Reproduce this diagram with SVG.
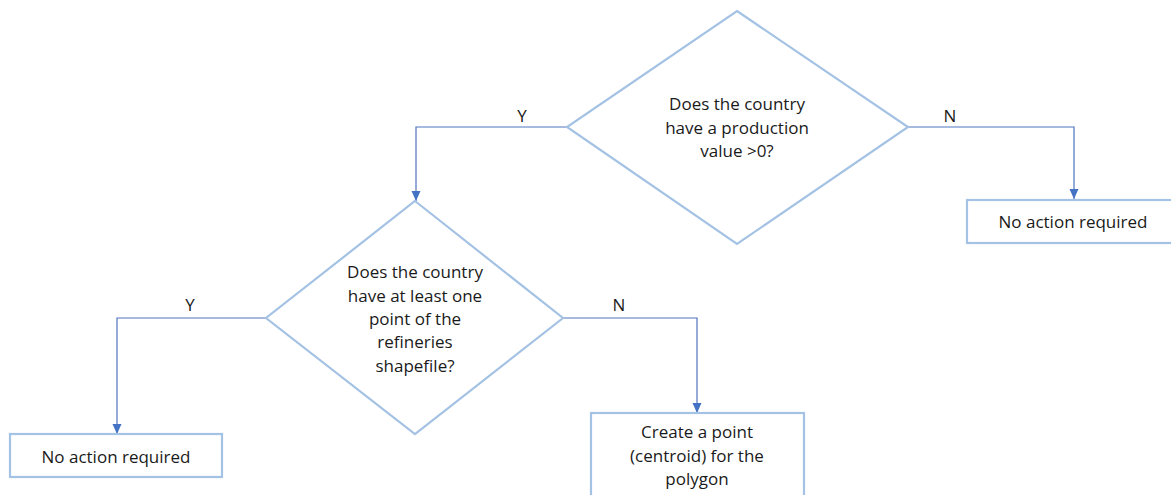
<svg xmlns="http://www.w3.org/2000/svg" width="1171" height="495" viewBox="0 0 1171 495">
<style>
.shape{fill:#fff;stroke:#a4c2e4;stroke-width:2.2}
.conn{fill:none;stroke:#4f74bd;stroke-width:1.2}
text{font-family:"Open Sans","Liberation Sans",Arial,sans-serif;font-size:17px;fill:#1a1a1a;text-anchor:middle}
</style>
<defs>
<marker id="arr" viewBox="0 0 10 10" refX="10" refY="5" markerWidth="10" markerHeight="10" markerUnits="userSpaceOnUse" orient="auto">
<path d="M0,0.5 L10,5 L0,9.5 z" fill="#4472c4"/>
</marker>
</defs>
<rect width="1171" height="495" fill="#fff"/>
<g id="connectors">
<polyline class="conn" points="567,127 416,127 416,201" marker-end="url(#arr)"/>
<polyline class="conn" points="908,127 1074,127 1074,199" marker-end="url(#arr)"/>
<polyline class="conn" points="266,318 117,318 117,434" marker-end="url(#arr)"/>
<polyline class="conn" points="563,318 697,318 697,413" marker-end="url(#arr)"/>
<text x="522" y="122">Y</text>
<text x="950" y="122">N</text>
<text x="190" y="311">Y</text>
<text x="619" y="311">N</text>
</g>
<g id="d1">
<polygon class="shape" points="737,11 908,127 737,244 567,127"/>
<text x="737" y="110">Does the country</text>
<text x="737" y="134">have a production</text>
<text x="737" y="157">value &gt;0?</text>
</g>
<g id="d2">
<polygon class="shape" points="415,201 563,318 415,434 266,318"/>
<text x="415" y="278">Does the country</text>
<text x="415" y="302">have at least one</text>
<text x="415" y="325">point of the</text>
<text x="415" y="348">refineries</text>
<text x="415" y="372">shapefile?</text>
</g>
<g id="b1">
<rect class="shape" x="967" y="200" width="206" height="43"/>
<text x="1073" y="228">No action required</text>
</g>
<g id="b2">
<rect class="shape" x="10" y="434" width="212" height="43"/>
<text x="116" y="463">No action required</text>
</g>
<g id="b3">
<rect class="shape" x="591" y="413" width="213" height="90"/>
<text x="697" y="438">Create a point</text>
<text x="697" y="462">(centroid) for the</text>
<text x="697" y="485">polygon</text>
</g>
</svg>
